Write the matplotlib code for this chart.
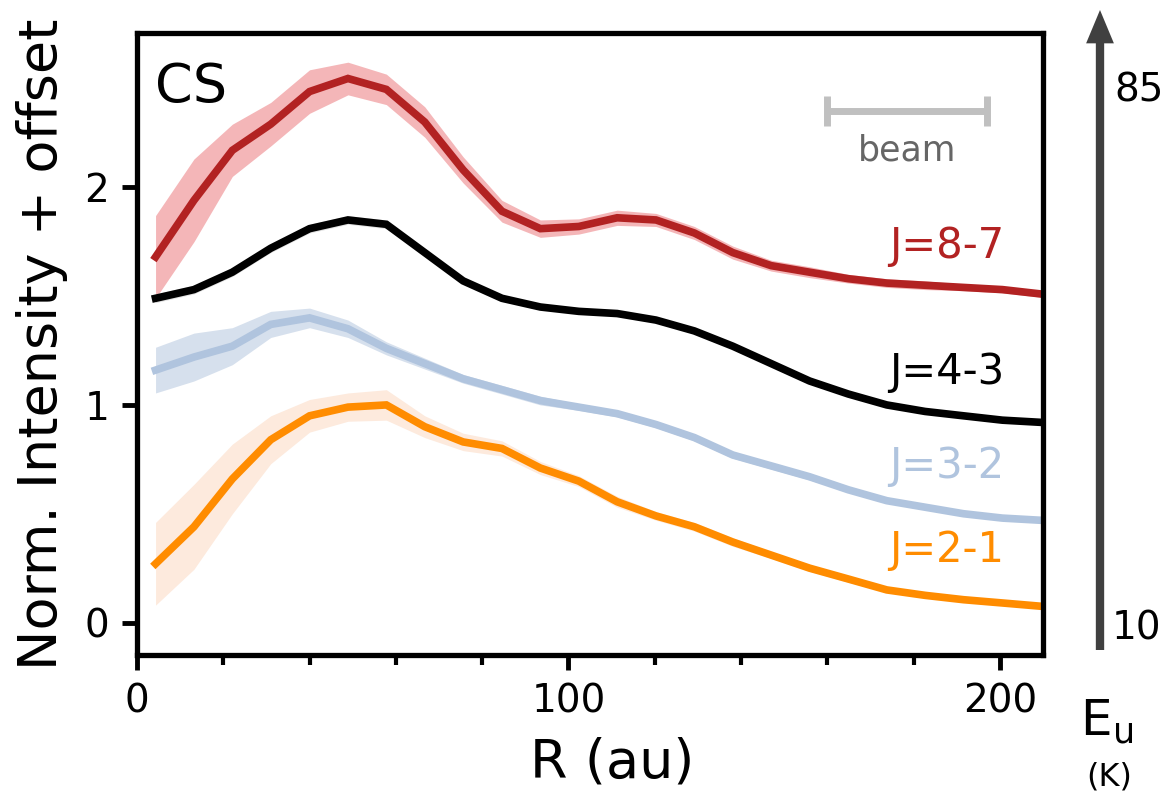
import numpy as np
import matplotlib.pyplot as plt
from matplotlib.ticker import MultipleLocator

# radial grid (au)
r = [4.3, 13.2, 22.1, 31.0, 40.0, 48.9, 57.8, 66.7, 75.6, 84.6, 93.5, 102.4,
     111.3, 120.3, 129.2, 138.1, 147.0, 155.9, 164.9, 173.8, 182.7, 191.6, 200.6, 209.5]

# normalised intensity + offset
cs87 = [1.68, 1.94, 2.17, 2.29, 2.44, 2.50, 2.45, 2.30, 2.08, 1.89, 1.81, 1.82,
        1.86, 1.85, 1.79, 1.70, 1.64, 1.61, 1.58, 1.56, 1.55, 1.54, 1.53, 1.51]
cs87_err = [0.19, 0.19, 0.12, 0.10, 0.10, 0.075, 0.07, 0.07, 0.06, 0.05, 0.04, 0.035,
            0.035, 0.03, 0.03, 0.03, 0.025, 0.025, 0.02, 0.02, 0.02, 0.015, 0.015, 0.015]

cs43 = [1.49, 1.53, 1.61, 1.72, 1.81, 1.85, 1.83, 1.70, 1.57, 1.49, 1.45, 1.43,
        1.42, 1.39, 1.34, 1.27, 1.19, 1.11, 1.05, 1.00, 0.97, 0.95, 0.93, 0.92]
cs43_err = [0.02, 0.02, 0.02, 0.02, 0.02, 0.02, 0.02, 0.015, 0.015, 0.015, 0.01, 0.01,
            0.01, 0.01, 0.01, 0.01, 0.01, 0.01, 0.01, 0.01, 0.01, 0.01, 0.01, 0.01]

cs32 = [1.16, 1.22, 1.27, 1.37, 1.40, 1.35, 1.26, 1.19, 1.12, 1.07, 1.02, 0.99,
        0.96, 0.91, 0.85, 0.77, 0.72, 0.67, 0.61, 0.56, 0.53, 0.50, 0.48, 0.47]
cs32_err = [0.105, 0.11, 0.085, 0.06, 0.045, 0.04, 0.03, 0.025, 0.02, 0.02, 0.02, 0.015,
            0.015, 0.015, 0.015, 0.015, 0.015, 0.015, 0.01, 0.01, 0.01, 0.01, 0.01, 0.01]

cs21 = [0.27, 0.44, 0.66, 0.84, 0.95, 0.99, 1.00, 0.90, 0.83, 0.80, 0.71, 0.65,
        0.555, 0.49, 0.44, 0.37, 0.31, 0.25, 0.20, 0.15, 0.125, 0.105, 0.09, 0.075]
cs21_err = [0.19, 0.195, 0.16, 0.11, 0.075, 0.065, 0.07, 0.05, 0.04, 0.035, 0.03, 0.025,
            0.025, 0.02, 0.02, 0.02, 0.015, 0.015, 0.015, 0.01, 0.01, 0.01, 0.01, 0.01]

series = [
    ('J=8-7', cs87, cs87_err, '#b22222', '#f4b6b8', 1.73),
    ('J=4-3', cs43, cs43_err, 'black', '#e3e3e3', 1.15),
    ('J=3-2', cs32, cs32_err, '#b0c4de', '#d6e0ed', 0.72),
    ('J=2-1', cs21, cs21_err, '#ff8c00', '#fdeadd', 0.335),
]

fig = plt.figure(figsize=(11.64, 8), dpi=100)
ax = fig.add_axes([0.1177, 0.181, 0.7783, 0.778])

for label, y, err, c, fc, ly in series:
    y = np.array(y)
    err = np.array(err)
    ax.fill_between(r, y - err, y + err, color=fc, lw=0)
    ax.plot(r, y, color=c, lw=5.5, solid_joinstyle='miter')
    ax.text(201, ly, label, color=c, fontsize=30, ha='right', va='center')

# beam
ax.errorbar([178.5], [2.35], xerr=[[18.5], [18.5]], color='#c0c0c0', lw=5,
            capsize=11, capthick=5, fmt='none')
ax.text(178.5, 2.17, 'beam', color='#666666', fontsize=25, ha='center', va='center')

ax.text(0.02, 0.955, 'CS', transform=ax.transAxes, fontsize=39, va='top', ha='left')

ax.set_xlim(0, 210)
ax.set_ylim(-0.15, 2.71)
ax.xaxis.set_major_locator(MultipleLocator(100))
ax.xaxis.set_minor_locator(MultipleLocator(20))
ax.set_yticks([0, 1, 2])
ax.tick_params(which='major', length=11, width=3.5, labelsize=28, pad=9)
ax.tick_params(which='minor', length=7, width=3)
for s in ax.spines.values():
    s.set_linewidth(3.8)

ax.set_xlabel('R (au)', fontsize=39)
ax.xaxis.set_label_coords(0.524, -0.13)
ax.set_ylabel('Norm. Intensity + offset', fontsize=39)
ax.yaxis.set_label_coords(-0.076, 0.5)

# energy arrow on the right
ax.annotate('', xy=(1100 / 1164, 1 - 10 / 800), xytext=(1100 / 1164, 1 - 650 / 800),
            xycoords='figure fraction', textcoords='figure fraction',
            arrowprops=dict(width=6, headwidth=20, headlength=24, color='#404040', lw=0))
fig.text(1114 / 1164, 1 - 90 / 800, '85', fontsize=28, ha='left', va='center')
fig.text(1112 / 1164, 1 - 628 / 800, '10', fontsize=28, ha='left', va='center')
fig.text(1107 / 1164, 1 - 722 / 800, r'E$_\mathregular{u}$', fontsize=36, ha='center', va='center')
fig.text(1109 / 1164, 1 - 777 / 800, '(K)', fontsize=23, ha='center', va='center')

fig.savefig('out.png', dpi=100)
